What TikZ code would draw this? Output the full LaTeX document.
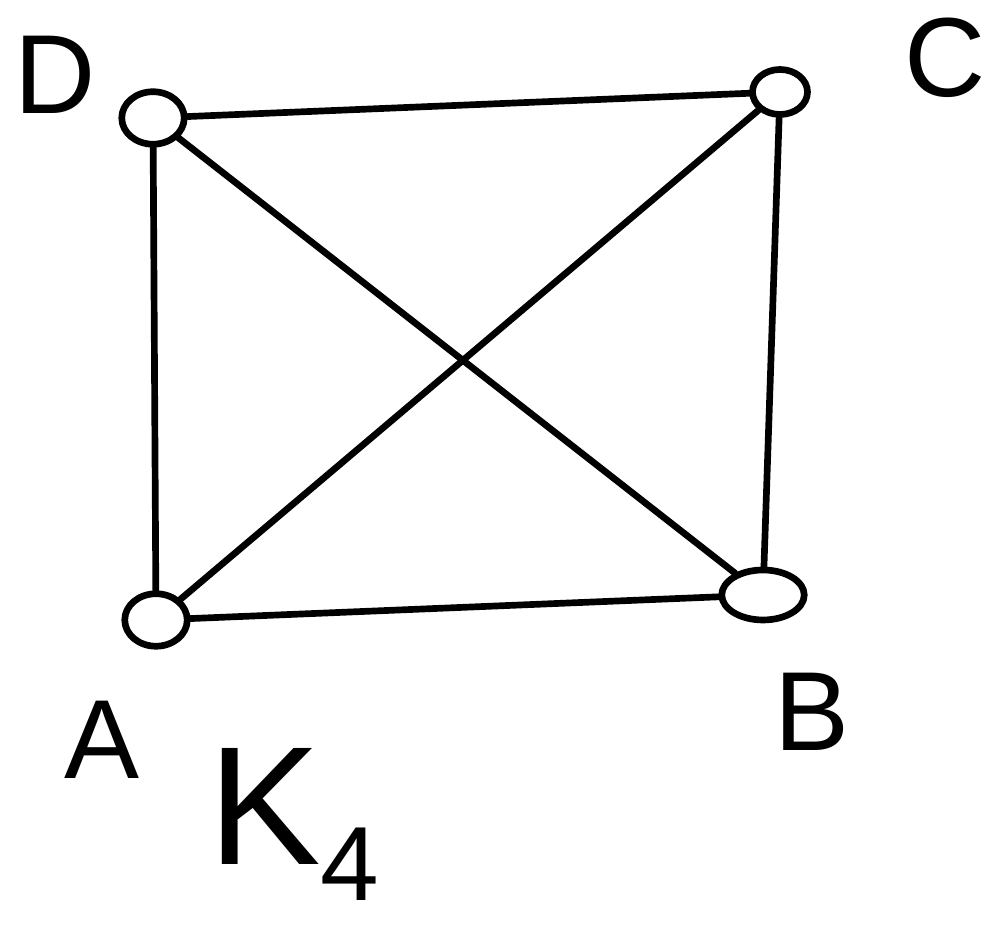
\documentclass[tikz,border=0pt]{standalone}
\usepackage{fontspec}
\setmainfont{Liberation Sans}
\usepackage{tikz}
\usetikzlibrary{shapes.geometric}

\begin{document}
\begin{tikzpicture}[line width=3.8pt, line cap=round, line join=round,
    vertex/.style={draw, ellipse, minimum width=1.25cm, minimum height=1.05cm, inner sep=0pt},
    letter/.style={font=\fontsize{64}{64}\selectfont, inner sep=0pt}]
    \useasboundingbox (0,0) rectangle (19.82,18.6);
    \node[vertex] (D) at (3.06,16.24) {};
    \node[vertex, minimum width=1.1cm, minimum height=0.9cm] (C) at (15.6,16.76) {};
    \node[vertex] (A) at (3.12,6.2) {};
    \node[vertex, minimum width=1.65cm, minimum height=1cm] (B) at (15.26,6.7) {};
    \node[letter] (Dlabel) at (1.1,17.1) {D};
    \node[letter] (Clabel) at (18.9,17.45) {C};
    \node[letter] (Alabel) at (2.05,3.8) {A};
    \node[letter] (Blabel) at (16.25,4.36) {B};
    \node[letter, font=\fontsize{96}{96}\selectfont, anchor=base west] (K4) at (4.1,1.3)
        {K\raisebox{-0.4ex}{\fontsize{60}{60}\selectfont 4}};
    \draw (D) -- (C);
    \draw (D) -- (A);
    \draw (C) -- (B);
    \draw (A) -- (B);
    \draw (D) -- (B);
    \draw (A) -- (C);
\end{tikzpicture}
\end{document}
